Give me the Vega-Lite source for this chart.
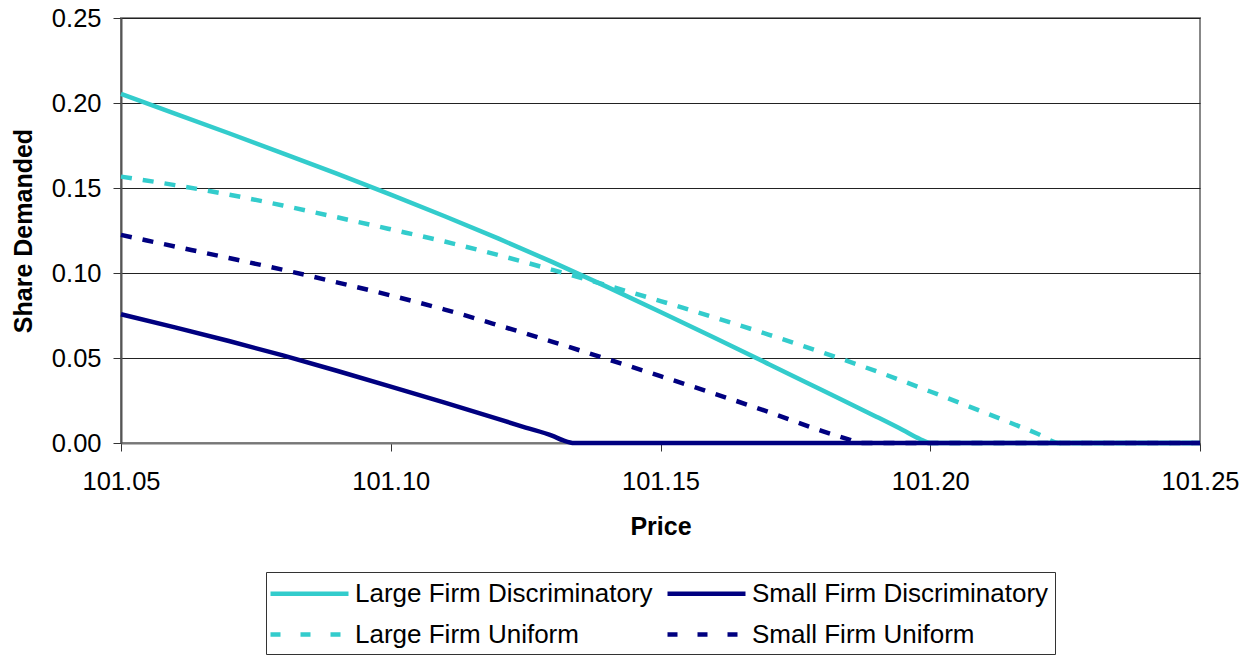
{
  "$schema": "https://vega.github.io/schema/vega-lite/v6.json",
  "width": 1079,
  "height": 425,
  "autosize": {"type": "none"},
  "padding": {"left": 121, "top": 18, "right": 54, "bottom": 212},
  "background": "white",
  "config": {
    "font": "Liberation Sans",
    "view": {"stroke": "#888888", "strokeWidth": 2},
    "axis": {"labelFont": "Liberation Sans", "titleFont": "Liberation Sans", "labelColor": "black", "titleColor": "black"}
  },
  "data": {
    "values": [
      {"price": 101.05, "share": 0.1567, "series": "Large Firm Uniform"},
      {"price": 101.06, "share": 0.1517, "series": "Large Firm Uniform"},
      {"price": 101.07, "share": 0.1461, "series": "Large Firm Uniform"},
      {"price": 101.08, "share": 0.1397, "series": "Large Firm Uniform"},
      {"price": 101.09, "share": 0.1328, "series": "Large Firm Uniform"},
      {"price": 101.10, "share": 0.1257, "series": "Large Firm Uniform"},
      {"price": 101.11, "share": 0.1185, "series": "Large Firm Uniform"},
      {"price": 101.12, "share": 0.1105, "series": "Large Firm Uniform"},
      {"price": 101.13, "share": 0.1018, "series": "Large Firm Uniform"},
      {"price": 101.14, "share": 0.0928, "series": "Large Firm Uniform"},
      {"price": 101.15, "share": 0.0835, "series": "Large Firm Uniform"},
      {"price": 101.16, "share": 0.0738, "series": "Large Firm Uniform"},
      {"price": 101.17, "share": 0.0638, "series": "Large Firm Uniform"},
      {"price": 101.18, "share": 0.0533, "series": "Large Firm Uniform"},
      {"price": 101.19, "share": 0.0422, "series": "Large Firm Uniform"},
      {"price": 101.20, "share": 0.0303, "series": "Large Firm Uniform"},
      {"price": 101.21, "share": 0.0180, "series": "Large Firm Uniform"},
      {"price": 101.22, "share": 0.0053, "series": "Large Firm Uniform"},
      {"price": 101.224, "share": 0.0, "series": "Large Firm Uniform"},
      {"price": 101.25, "share": 0.0, "series": "Large Firm Uniform"},

      {"price": 101.05, "share": 0.1224, "series": "Small Firm Uniform"},
      {"price": 101.06, "share": 0.1156, "series": "Small Firm Uniform"},
      {"price": 101.07, "share": 0.1088, "series": "Small Firm Uniform"},
      {"price": 101.08, "share": 0.1019, "series": "Small Firm Uniform"},
      {"price": 101.09, "share": 0.0945, "series": "Small Firm Uniform"},
      {"price": 101.10, "share": 0.0868, "series": "Small Firm Uniform"},
      {"price": 101.11, "share": 0.0785, "series": "Small Firm Uniform"},
      {"price": 101.12, "share": 0.0692, "series": "Small Firm Uniform"},
      {"price": 101.13, "share": 0.0595, "series": "Small Firm Uniform"},
      {"price": 101.14, "share": 0.0495, "series": "Small Firm Uniform"},
      {"price": 101.15, "share": 0.0393, "series": "Small Firm Uniform"},
      {"price": 101.16, "share": 0.0290, "series": "Small Firm Uniform"},
      {"price": 101.17, "share": 0.0183, "series": "Small Firm Uniform"},
      {"price": 101.18, "share": 0.0070, "series": "Small Firm Uniform"},
      {"price": 101.185, "share": 0.0020, "series": "Small Firm Uniform"},
      {"price": 101.187, "share": 0.0, "series": "Small Firm Uniform"},
      {"price": 101.25, "share": 0.0, "series": "Small Firm Uniform"},

      {"price": 101.05, "share": 0.2053, "series": "Large Firm Discriminatory"},
      {"price": 101.06, "share": 0.1938, "series": "Large Firm Discriminatory"},
      {"price": 101.07, "share": 0.1822, "series": "Large Firm Discriminatory"},
      {"price": 101.08, "share": 0.1704, "series": "Large Firm Discriminatory"},
      {"price": 101.09, "share": 0.1584, "series": "Large Firm Discriminatory"},
      {"price": 101.10, "share": 0.1461, "series": "Large Firm Discriminatory"},
      {"price": 101.11, "share": 0.1334, "series": "Large Firm Discriminatory"},
      {"price": 101.12, "share": 0.1202, "series": "Large Firm Discriminatory"},
      {"price": 101.13, "share": 0.1064, "series": "Large Firm Discriminatory"},
      {"price": 101.14, "share": 0.0920, "series": "Large Firm Discriminatory"},
      {"price": 101.15, "share": 0.0771, "series": "Large Firm Discriminatory"},
      {"price": 101.16, "share": 0.0619, "series": "Large Firm Discriminatory"},
      {"price": 101.17, "share": 0.0465, "series": "Large Firm Discriminatory"},
      {"price": 101.18, "share": 0.0310, "series": "Large Firm Discriminatory"},
      {"price": 101.19, "share": 0.0155, "series": "Large Firm Discriminatory"},
      {"price": 101.195, "share": 0.0075, "series": "Large Firm Discriminatory"},
      {"price": 101.198, "share": 0.0025, "series": "Large Firm Discriminatory"},
      {"price": 101.20, "share": 0.0, "series": "Large Firm Discriminatory"},
      {"price": 101.25, "share": 0.0, "series": "Large Firm Discriminatory"},

      {"price": 101.05, "share": 0.0757, "series": "Small Firm Discriminatory"},
      {"price": 101.06, "share": 0.0680, "series": "Small Firm Discriminatory"},
      {"price": 101.07, "share": 0.0600, "series": "Small Firm Discriminatory"},
      {"price": 101.08, "share": 0.0515, "series": "Small Firm Discriminatory"},
      {"price": 101.09, "share": 0.0425, "series": "Small Firm Discriminatory"},
      {"price": 101.10, "share": 0.0332, "series": "Small Firm Discriminatory"},
      {"price": 101.11, "share": 0.0237, "series": "Small Firm Discriminatory"},
      {"price": 101.12, "share": 0.0140, "series": "Small Firm Discriminatory"},
      {"price": 101.125, "share": 0.0091, "series": "Small Firm Discriminatory"},
      {"price": 101.13, "share": 0.0042, "series": "Small Firm Discriminatory"},
      {"price": 101.132, "share": 0.0015, "series": "Small Firm Discriminatory"},
      {"price": 101.134, "share": 0.0, "series": "Small Firm Discriminatory"},
      {"price": 101.25, "share": 0.0, "series": "Small Firm Discriminatory"}
    ]
  },
  "encoding": {
    "x": {
      "field": "price", "type": "quantitative",
      "scale": {"domain": [101.05, 101.25], "nice": false, "zero": false},
      "axis": {
        "title": "Price", "titleFontSize": 25, "titleFontWeight": "bold", "titlePadding": 20,
        "values": [101.05, 101.10, 101.15, 101.20, 101.25], "format": ".2f",
        "labelFontSize": 25.5, "labelPadding": 18, "labelFlush": false,
        "tickSize": 8, "tickColor": "#333333", "tickWidth": 1,
        "domainColor": "#777777", "domainWidth": 2, "grid": false
      }
    },
    "y": {
      "field": "share", "type": "quantitative",
      "scale": {"domain": [0, 0.25], "nice": false},
      "axis": {
        "title": "Share Demanded", "titleFontSize": 25, "titleFontWeight": "bold", "titlePadding": 15,
        "values": [0, 0.05, 0.10, 0.15, 0.20, 0.25], "format": ".2f",
        "labelFontSize": 25.5, "labelPadding": 12,
        "tickSize": 8, "tickColor": "#333333", "tickWidth": 1,
        "domainColor": "#555555", "domainWidth": 2,
        "grid": true, "gridColor": "#222222", "gridWidth": 1
      }
    },
    "color": {
      "field": "series", "type": "nominal",
      "scale": {
        "domain": ["Large Firm Discriminatory", "Small Firm Discriminatory", "Large Firm Uniform", "Small Firm Uniform"],
        "range": ["#33CCCC", "#000080", "#33CCCC", "#000080"]
      },
      "legend": {
        "title": null, "orient": "none", "legendX": 145, "legendY": 554,
        "direction": "horizontal",
        "columns": 2, "columnPadding": 5, "rowPadding": 12,
        "padding": 6, "strokeColor": "#333333",
        "symbolType": "M-3,0H3", "symbolSize": 676, "symbolStrokeWidth": 4.5, "symbolOffset": 22,
        "labelFontSize": 26, "labelFont": "Liberation Sans", "labelColor": "black", "labelOffset": 30, "labelLimit": 400,
        "encoding": {
          "symbols": {"strokeDash": {"condition": {"test": "indexof(datum.value, 'Uniform') >= 0", "value": [10, 20]}, "value": [1, 0]}}
        }
      }
    }
  },
  "layer": [
    {
      "transform": [{"filter": "indexof(datum.series, 'Uniform') >= 0"}],
      "mark": {"type": "line", "strokeWidth": 4.5, "strokeCap": "butt", "strokeDash": [11, 11], "interpolate": "monotone"}
    },
    {
      "transform": [{"filter": "indexof(datum.series, 'Discriminatory') >= 0"}],
      "mark": {"type": "line", "strokeWidth": 4.5, "strokeCap": "butt", "interpolate": "monotone"}
    }
  ]
}
